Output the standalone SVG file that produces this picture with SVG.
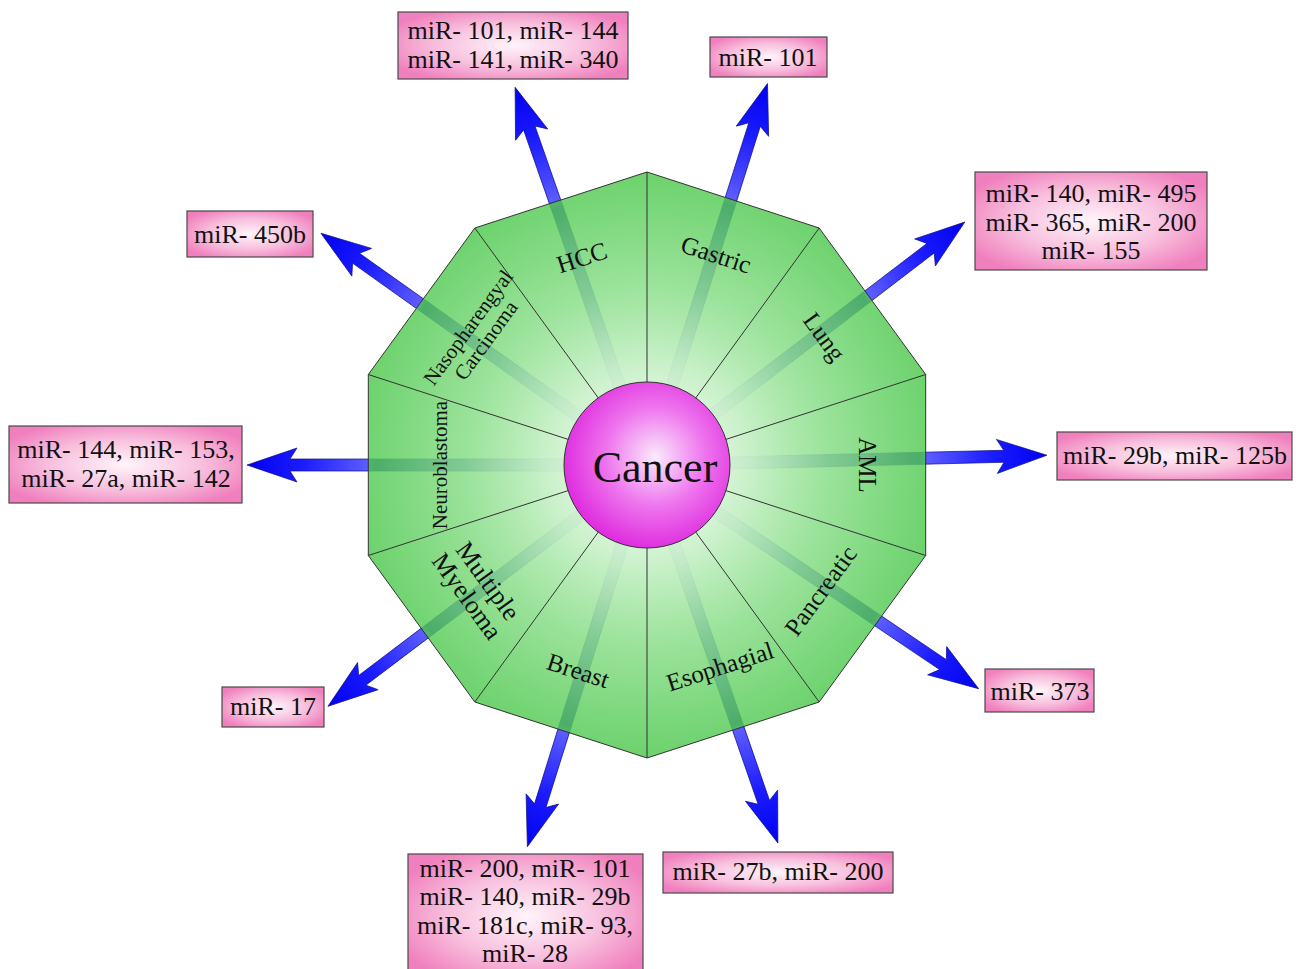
<svg xmlns="http://www.w3.org/2000/svg" xmlns:xlink="http://www.w3.org/1999/xlink" width="1296" height="969" viewBox="0 0 1296 969">
<style>
.box{fill:url(#pinkG);stroke:#4a4a4a;stroke-width:1.2}
.bt{font-family:"Liberation Serif","Times New Roman",serif;font-size:26px;fill:#111;text-anchor:middle}
.lab{font-family:"Liberation Serif","Times New Roman",serif;font-size:25px;fill:#111;text-anchor:middle}
.spoke{stroke:#333;stroke-width:1;fill:none}
.arr{fill:url(#blueG);stroke:#10108a;stroke-width:0.7}
</style>
<defs>
<radialGradient id="pinkG" cx="0.5" cy="0.5" r="0.6">
<stop offset="0" stop-color="#fff4fa"/>
<stop offset="0.55" stop-color="#f8bfdd"/>
<stop offset="1" stop-color="#f07fbd"/>
</radialGradient>
<linearGradient id="blueG" x1="0" y1="0" x2="1" y2="0">
<stop offset="0" stop-color="#c0c0ff"/>
<stop offset="0.35" stop-color="#7070e8"/>
<stop offset="0.68" stop-color="#1818c0"/>
<stop offset="0.70" stop-color="#5c5cff"/>
<stop offset="0.86" stop-color="#1c1cff"/>
<stop offset="1" stop-color="#0000f0"/>
</linearGradient>
<radialGradient id="greenG" gradientUnits="userSpaceOnUse" cx="647" cy="465" r="293">
<stop offset="0" stop-color="#ffffff" stop-opacity="1"/>
<stop offset="0.35" stop-color="#c6f0c6" stop-opacity="0.95"/>
<stop offset="0.62" stop-color="#8ade8a" stop-opacity="0.86"/>
<stop offset="1" stop-color="#4cc84c" stop-opacity="0.82"/>
</radialGradient>
<radialGradient id="magG" cx="0.55" cy="0.45" r="0.6">
<stop offset="0" stop-color="#fbeafb"/>
<stop offset="0.5" stop-color="#ee74ee"/>
<stop offset="1" stop-color="#dc22dc"/>
</radialGradient>
<path id="arrow" d="M0,-6 L357,-6 L350,-17 L400,0 L350,17 L357,6 L0,6 Z"/>
</defs>
<rect width="1296" height="969" fill="#ffffff"/>

<g id="connectors">
<use xlink:href="#arrow" class="arr" transform="translate(647,465) rotate(-109.25)"/>
<use xlink:href="#arrow" class="arr" transform="translate(647,465) rotate(-72.47)"/>
<use xlink:href="#arrow" class="arr" transform="translate(647,465) rotate(-37.4)"/>
<use xlink:href="#arrow" class="arr" transform="translate(647,465) rotate(-1.4)"/>
<use xlink:href="#arrow" class="arr" transform="translate(647,465) rotate(34)"/>
<use xlink:href="#arrow" class="arr" transform="translate(647,465) rotate(70.9)"/>
<use xlink:href="#arrow" class="arr" transform="translate(647,465) rotate(107.4)"/>
<use xlink:href="#arrow" class="arr" transform="translate(647,465) rotate(142.9)"/>
<use xlink:href="#arrow" class="arr" transform="translate(647,465) rotate(180)"/>
<use xlink:href="#arrow" class="arr" transform="translate(647,465) rotate(215.4)"/>
</g>

<g id="decagon">
<polygon points="647,172 819.2,228 925.7,374.5 925.7,555.5 819.2,702 647,758 474.8,702 368.3,555.5 368.3,374.5 474.8,228" fill="url(#greenG)" stroke="#333" stroke-width="1"/>
<path class="spoke" d="M647,465 L647,172 M647,465 L819.2,228 M647,465 L925.7,374.5 M647,465 L925.7,555.5 M647,465 L819.2,702 M647,465 L647,758 M647,465 L474.8,702 M647,465 L368.3,555.5 M647,465 L368.3,374.5 M647,465 L474.8,228"/>
</g>

<g id="sector-HCC"><text class="lab" transform="translate(582,258) rotate(-18)" y="8">HCC</text></g>
<g id="sector-Gastric"><text class="lab" transform="translate(716,255) rotate(18)" y="8">Gastric</text></g>
<g id="sector-Lung"><text class="lab" transform="translate(824,337) rotate(54)" y="8">Lung</text></g>
<g id="sector-AML"><text class="lab" transform="translate(867,465) rotate(90)" y="8">AML</text></g>
<g id="sector-Pancreatic"><text class="lab" transform="translate(821,591) rotate(-54)" y="8">Pancreatic</text></g>
<g id="sector-Esophagial"><text class="lab" transform="translate(720,667) rotate(-18)" y="8">Esophagial</text></g>
<g id="sector-Breast"><text class="lab" transform="translate(578,671) rotate(18)" y="8">Breast</text></g>
<g id="sector-MM"><text class="lab" style="font-size:26px" transform="translate(477,589) rotate(54)"><tspan x="0" y="-5">Multiple</tspan><tspan x="0" y="21">Myeloma</tspan></text></g>
<g id="sector-Neuroblastoma"><text class="lab" style="font-size:21px" transform="translate(440,465) rotate(-90)" y="7">Neuroblastoma</text></g>
<g id="sector-Naso"><text class="lab" style="font-size:21px" transform="translate(477,334) rotate(-54)"><tspan x="0" y="-4">Nasopharengyal</tspan><tspan x="0" y="18">Carcinoma</tspan></text></g>

<g id="cancer">
<circle cx="647" cy="465" r="83" fill="url(#magG)" stroke="#333" stroke-width="1"/>
<text x="655" y="482" style="font-family:'Liberation Serif','Times New Roman',serif;font-size:44px;fill:#111;text-anchor:middle">Cancer</text>
</g>

<g id="box-HCC"><rect class="box" x="398" y="12" width="230" height="67"/><text class="bt" x="513" y="39">miR- 101, miR- 144</text><text class="bt" x="513" y="68">miR- 141, miR- 340</text></g>
<g id="box-Gastric"><rect class="box" x="710" y="37" width="117" height="40"/><text class="bt" x="768" y="66">miR- 101</text></g>
<g id="box-Lung"><rect class="box" x="975" y="172" width="232" height="98"/><text class="bt" x="1091" y="202">miR- 140, miR- 495</text><text class="bt" x="1091" y="231">miR- 365, miR- 200</text><text class="bt" x="1091" y="259">miR- 155</text></g>
<g id="box-AML"><rect class="box" x="1057" y="432" width="235" height="48"/><text class="bt" x="1175" y="464">miR- 29b, miR- 125b</text></g>
<g id="box-Pancreatic"><rect class="box" x="985" y="669" width="109" height="43"/><text class="bt" x="1040" y="700">miR- 373</text></g>
<g id="box-Esophagial"><rect class="box" x="663" y="852" width="230" height="41"/><text class="bt" x="778" y="880">miR- 27b, miR- 200</text></g>
<g id="box-Breast"><rect class="box" x="408" y="854" width="235" height="125"/><text class="bt" x="525" y="877">miR- 200, miR- 101</text><text class="bt" x="525" y="905">miR- 140, miR- 29b</text><text class="bt" x="525" y="934">miR- 181c, miR- 93,</text><text class="bt" x="525" y="962">miR- 28</text></g>
<g id="box-MM"><rect class="box" x="222" y="687" width="102" height="40"/><text class="bt" x="273" y="715">miR- 17</text></g>
<g id="box-Neuroblastoma"><rect class="box" x="9" y="426" width="233" height="77"/><text class="bt" x="126" y="458">miR- 144, miR- 153,</text><text class="bt" x="126" y="487">miR- 27a, miR- 142</text></g>
<g id="box-Naso"><rect class="box" x="187" y="211" width="126" height="46"/><text class="bt" x="250" y="243">miR- 450b</text></g>
</svg>
